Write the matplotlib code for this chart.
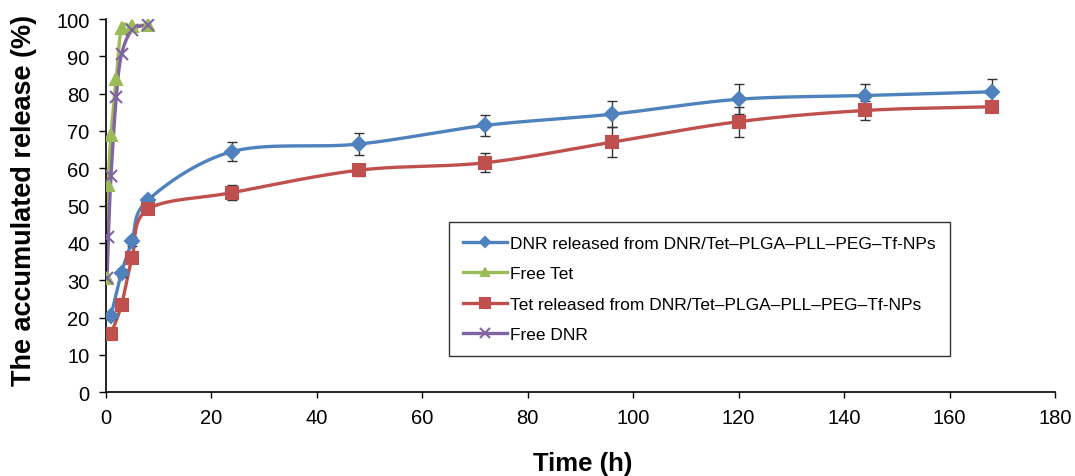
import numpy as np
import matplotlib
matplotlib.use("Agg")
import matplotlib.pyplot as plt

plt.rcParams['font.family'] = ['Liberation Sans', 'DejaVu Sans']

# ---- data ----
t_np = [1, 3, 5, 8, 24, 48, 72, 96, 120, 144, 168]
dnr_np = [20.5, 32, 40.5, 51.5, 64.5, 66.5, 71.5, 74.5, 78.5, 79.5, 80.5]
dnr_np_err = [0.8, 1.0, 1.2, 1.0, 2.5, 3.0, 2.8, 3.5, 4.0, 3.0, 3.5]
tet_np = [15.5, 23.5, 36, 49, 53.5, 59.5, 61.5, 67, 72.5, 75.5, 76.5]
tet_np_err = [0.6, 0.8, 1.0, 1.2, 2.0, 1.5, 2.5, 4.0, 4.0, 2.5, 1.0]

t_free = [0.25, 0.5, 1, 2, 3, 5, 8]
free_tet = [30.5, 55.5, 69, 84, 97.5, 98, 98.5]
free_dnr = [30.5, 41.5, 58, 79, 90.5, 97, 98.5]

labels = ["DNR released from DNR/Tet\u2013PLGA\u2013PLL\u2013PEG\u2013Tf-NPs",
          "Free Tet",
          "Tet released from DNR/Tet\u2013PLGA\u2013PLL\u2013PEG\u2013Tf-NPs",
          "Free DNR"]
colors = ["#4F81BD", "#9BBB59", "#C0504D", "#8064A2"]
xticks = list(range(0, 181, 20))
yticks = list(range(0, 101, 10))


def smooth(x, y, n=30):
    x = np.asarray(x, float)
    y = np.asarray(y, float)
    px = np.concatenate([[2 * x[0] - x[1]], x, [2 * x[-1] - x[-2]]])
    py = np.concatenate([[2 * y[0] - y[1]], y, [2 * y[-1] - y[-2]]])
    xs, ys = [], []
    for i in range(1, len(px) - 2):
        p0x, p1x, p2x, p3x = px[i - 1], px[i], px[i + 1], px[i + 2]
        p0y, p1y, p2y, p3y = py[i - 1], py[i], py[i + 1], py[i + 2]
        c1x = p1x + (p2x - p0x) / 6
        c1y = p1y + (p2y - p0y) / 6
        c2x = p2x - (p3x - p1x) / 6
        c2y = p2y - (p3y - p1y) / 6
        s = np.linspace(0, 1, n)
        bx = (1 - s) ** 3 * p1x + 3 * (1 - s) ** 2 * s * c1x + 3 * (1 - s) * s ** 2 * c2x + s ** 3 * p2x
        by = (1 - s) ** 3 * p1y + 3 * (1 - s) ** 2 * s * c1y + 3 * (1 - s) * s ** 2 * c2y + s ** 3 * p2y
        xs.append(bx)
        ys.append(by)
    return np.concatenate(xs), np.concatenate(ys)


W, H = 1075, 477
fig = plt.figure(figsize=(W / 100, H / 100), dpi=100)
ax = fig.add_axes([105.7 / W, (H - 393.3) / H, (1055 - 105.7) / W, (393.3 - 20) / H])

series = [
    (t_np, dnr_np, dnr_np_err, colors[0], 'D', 7, labels[0]),
    (t_free, free_tet, None, colors[1], '^', 8, labels[1]),
    (t_np, tet_np, tet_np_err, colors[2], 's', 8.5, labels[2]),
    (t_free, free_dnr, None, colors[3], 'x', 9, labels[3]),
]
handles = []
for x, y, err, c, m, ms, lab in series:
    sx, sy = smooth(x, y)
    ax.plot(sx, sy, color=c, lw=2.4, zorder=2)
    if err is not None:
        ax.errorbar(x, y, yerr=err, fmt='none', ecolor='#333333', elinewidth=1,
                    capsize=3.5, capthick=1, zorder=3)
    ax.plot(x, y, ls='none', marker=m, ms=ms, color=c, mec=c, mew=1.5, zorder=4)
    h, = ax.plot([], [], color=c, lw=2.4, marker=m, ms=ms * 0.8, mec=c, mew=1.5, label=lab)
    handles.append(h)

ax.set_xlim(0, 180)
ax.set_ylim(0, 100)
ax.set_xticks(xticks)
ax.set_yticks(yticks)
ax.tick_params(axis='both', direction='out', width=1, labelsize=14.5, colors='black')
ax.tick_params(axis='x', length=4, pad=7)
ax.tick_params(axis='y', length=5.2, pad=6.5)
for s in ['top', 'right']:
    ax.spines[s].set_visible(False)
for s in ['left', 'bottom']:
    ax.spines[s].set_linewidth(1.2)

fig.text(583 / W, (H - 464) / H, "Time (h)", fontsize=18.5, fontweight='bold',
         ha='center', va='center')
fig.text(24 / W, (H - 200) / H, "The accumulated release (%)", fontsize=19.5,
         fontweight='bold', ha='center', va='center', rotation=90)

leg = ax.legend(handles=handles, loc='lower left', bbox_to_anchor=(0.362, 0.097),
                fontsize=12.5, frameon=True, fancybox=False, edgecolor='black',
                borderpad=0.8, labelspacing=0.88, handlelength=2.5, handletextpad=0.2,
                borderaxespad=0)
leg.get_frame().set_linewidth(1.0)

fig.savefig("out.png", dpi=100)
